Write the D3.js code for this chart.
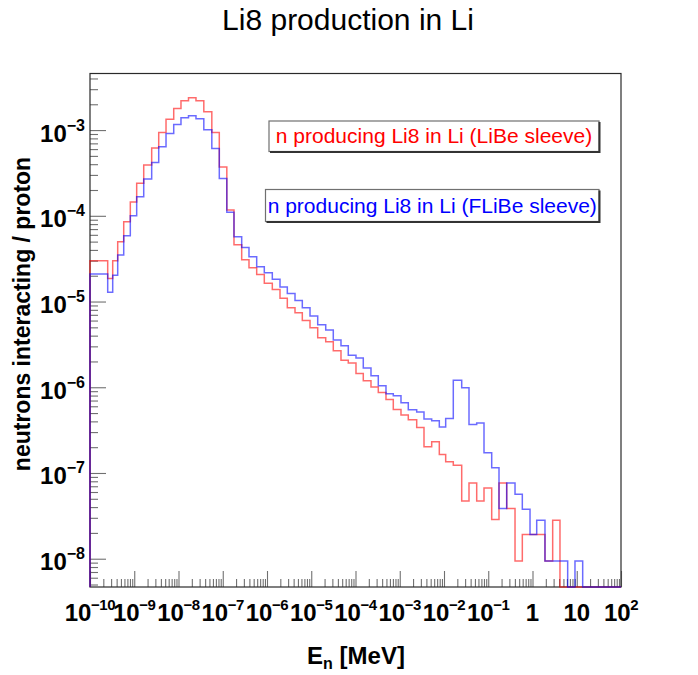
<!DOCTYPE html>
<html>
<head>
<meta charset="utf-8">
<script src="https://cdn.jsdelivr.net/npm/d3@7"></script>
<style>
  body { margin: 0; background: #fff; }
  svg { display: block; }
  text { font-family: "Liberation Sans", Arial, Helvetica, sans-serif; }
</style>
</head>
<body>
<svg width="698" height="675"></svg>
<script>
// границы бинов, log10(E / MeV)
const binEdgesLog = [
    -10, -9.600, -9.487,
    -9.374, -9.238, -9.089, -8.945, -8.786, -8.606, -8.447, -8.282, -8.108, -7.944,
    -7.774, -7.605, -7.428, -7.247, -7.078, -6.908, -6.746, -6.572, -6.407, -6.233,
    -6.061, -5.880, -5.706, -5.541, -5.367, -5.202, -5.028, -4.854, -4.673, -4.502,
    -4.328, -4.163, -3.989, -3.824, -3.650, -3.485, -3.311, -3.146, -2.972, -2.807,
    -2.617, -2.452, -2.278, -2.106, -1.962, -1.790, -1.600, -1.435, -1.261, -1.096,
    -0.922, -0.757, -0.583, -0.395, -0.230, -0.056, 0.095, 0.282, 0.456, 0.621,
    0.795, 0.960, 1.134,
    1.30, 1.47, 1.64, 1.81, 2.0
];

// нейтроны, рождающие Li8 в Li, на протон (LiBe sleeve)
const liBeSleeve = [
    2.99e-5, 1.86e-5, 2.99e-5,
    4.97e-5, 8.51e-5, 1.45e-4, 2.39e-4, 3.91e-4, 6.17e-4, 9.40e-4, 1.34e-3, 1.79e-3, 2.20e-3,
    2.38e-3, 2.20e-3, 1.64e-3, 9.35e-4, 3.70e-4, 1.17e-4, 4.61e-5, 3.08e-5, 2.47e-5, 2.07e-5,
    1.63e-5, 1.38e-5, 1.09e-5, 8.49e-6, 7.42e-6, 6.02e-6, 4.96e-6, 3.77e-6, 3.39e-6, 2.66e-6,
    2.07e-6, 1.92e-6, 1.45e-6, 1.19e-6, 1.01e-6, 8.71e-7, 7.21e-7, 5.51e-7, 4.76e-7, 4.17e-7,
    3.40e-7, 2.02e-7, 2.31e-7, 1.64e-7, 1.35e-7, 1.23e-7, 4.72e-8, 7.66e-8, 4.72e-8, 6.70e-8,
    2.86e-8, 7.66e-8, 3.85e-8, 9.42e-9, 1.91e-8, 1.91e-8, 1.91e-8, 9.42e-9, 2.81e-8, 0,
    0, 0,
    0, 0, 0, 0, 0
];

// то же для FLiBe sleeve
const fLiBeSleeve = [
    2.09e-5, 1.28e-5, 2.03e-5,
    3.48e-5, 5.85e-5, 1.00e-4, 1.67e-4, 2.68e-4, 4.20e-4, 6.38e-4, 9.15e-4, 1.16e-3, 1.39e-3,
    1.47e-3, 1.36e-3, 1.01e-3, 6.11e-4, 2.73e-4, 1.10e-4, 5.69e-5, 4.28e-5, 3.32e-5, 2.54e-5,
    2.16e-5, 1.82e-5, 1.48e-5, 1.24e-5, 1.03e-5, 8.45e-6, 6.79e-6, 5.35e-6, 4.64e-6, 3.55e-6,
    3.04e-6, 2.37e-6, 2.19e-6, 1.68e-6, 1.36e-6, 1.04e-6, 8.41e-7, 7.94e-7, 6.58e-7, 5.48e-7,
    5.16e-7, 4.25e-7, 4.06e-7, 3.45e-7, 4.33e-7, 1.21e-6, 9.84e-7, 3.68e-7, 3.84e-7, 1.72e-7,
    1.15e-7, 3.85e-8, 7.66e-8, 5.66e-8, 3.78e-8, 1.91e-8, 2.81e-8, 9.42e-9, 9.42e-9, 9.42e-9,
    0, 9.42e-9,
    0, 0, 0, 0, 0
];

const seriesNames = ["n producing Li8 in Li (LiBe sleeve)", "n producing Li8 in Li (FLiBe sleeve)"];
const xDecades = [-10, -9, -8, -7, -6, -5, -4, -3, -2, -1, 0, 1, 2];
const yDecades = [-8, -7, -6, -5, -4, -3];

const svg = d3.select("svg");
const plotLeft = 90, plotRight = 621, plotTop = 73.5, plotBottom = 587;

const x = d3.scaleLog().domain([1e-10, 1e2]).range([plotLeft, plotRight]);
const y = d3.scaleLog().domain([Math.pow(10, -8.33), Math.pow(10, -2.34)]).range([plotBottom, plotTop]);

// мелкие деления 2..9 в каждой декаде
let xMinor = [];
for (let k = -10; k < 2; k++) {
    for (let m = 2; m <= 9; m++) xMinor.push(m * Math.pow(10, k));
}
let yMinor = [];
for (let k = -9; k <= -3; k++) {
    for (let m = 2; m <= 9; m++) {
        const v = m * Math.pow(10, k);
        if (v > y.domain()[0] && v < y.domain()[1]) yMinor.push(v);
    }
}

function styleTicks(g) {
    g.select(".domain").remove();
    g.selectAll(".tick line").attr("stroke", "#707070").attr("stroke-width", 1.1);
}

svg.append("g").attr("transform", `translate(0,${plotBottom})`)
    .call(d3.axisBottom(x).tickValues(xDecades.map(k => Math.pow(10, k))).tickSize(-16).tickFormat(""))
    .call(styleTicks);
svg.append("g").attr("transform", `translate(0,${plotBottom})`)
    .call(d3.axisBottom(x).tickValues(xMinor).tickSize(-8).tickFormat(""))
    .call(styleTicks);
svg.append("g").attr("transform", `translate(${plotLeft},0)`)
    .call(d3.axisLeft(y).tickValues(yDecades.map(k => Math.pow(10, k))).tickSize(-16).tickFormat(""))
    .call(styleTicks);
svg.append("g").attr("transform", `translate(${plotLeft},0)`)
    .call(d3.axisLeft(y).tickValues(yMinor).tickSize(-8).tickFormat(""))
    .call(styleTicks);

// рамка
svg.append("rect")
    .attr("x", plotLeft).attr("y", plotTop)
    .attr("width", plotRight - plotLeft).attr("height", plotBottom - plotTop)
    .attr("fill", "none").attr("stroke", "#2a2a2a").attr("stroke-width", 1.2);

// подписи делений
const supText = k => (k < 0 ? "\u2212" + (-k) : String(k));

xDecades.forEach(k => {
    const t = svg.append("text")
        .attr("x", x(Math.pow(10, k))).attr("y", 621)
        .attr("text-anchor", "middle")
        .style("font-weight", "bold").style("font-size", "24px");
    if (k === 0) t.text("1");
    else if (k === 1) t.text("10");
    else {
        t.append("tspan").text("10");
        t.append("tspan").attr("dy", -11).attr("dx", -0.5)
            .style("font-size", "15px").style("letter-spacing", "-0.4px")
            .text(supText(k));
    }
});

yDecades.forEach(k => {
    const t = svg.append("text")
        .attr("x", 85).attr("y", y(Math.pow(10, k)) + 11.5)
        .attr("text-anchor", "end")
        .style("font-weight", "bold").style("font-size", "24px");
    t.append("tspan").text("10");
    t.append("tspan").attr("dy", -11).style("font-size", "16px").text(supText(k));
});

// гистограммы ступеньками
function histPoints(values) {
    const pts = [{e: binEdgesLog[0], v: 0}];
    values.forEach((v, i) => {
        pts.push({e: binEdgesLog[i], v: v});
        pts.push({e: binEdgesLog[i + 1], v: v});
    });
    return pts;
}

const line = d3.line()
    .x(d => x(Math.pow(10, d.e)))
    .y(d => d.v > 0 ? y(d.v) : plotBottom);

svg.append("path")
    .attr("d", line(histPoints(liBeSleeve)))
    .attr("fill", "none").attr("stroke", "#ff0000")
    .attr("stroke-opacity", 0.58).attr("stroke-width", 1.5);
svg.append("path")
    .attr("d", line(histPoints(fLiBeSleeve)))
    .attr("fill", "none").attr("stroke", "#0000ff")
    .attr("stroke-opacity", 0.58).attr("stroke-width", 1.5);

// названия осей и заголовок
svg.append("text")
    .attr("x", 348).attr("y", 30)
    .attr("text-anchor", "middle")
    .style("font-size", "30px")
    .text("Li8 production in Li");

const xt = svg.append("text")
    .attr("x", 356).attr("y", 664)
    .attr("text-anchor", "middle")
    .style("font-weight", "bold").style("font-size", "24px");
xt.append("tspan").text("E");
xt.append("tspan").attr("dy", 5).style("font-size", "16px").text("n");
xt.append("tspan").attr("dy", -5).text("\u00a0[MeV]");

svg.append("text")
    .attr("transform", "translate(30,314) rotate(-90)")
    .attr("text-anchor", "middle")
    .style("font-weight", "bold").style("font-size", "23px")
    .text("neutrons interacting / proton");

// легенда: две рамки с тенью
function legendBox(x0, y0, x1, y1, label, color) {
    svg.append("rect")
        .attr("x", x0).attr("y", y0)
        .attr("width", x1 - x0).attr("height", y1 - y0)
        .attr("fill", "#fff").attr("stroke", "#707070").attr("stroke-width", 1.2);
    svg.append("path")
        .attr("d", `M${x0 + 1},${y1 + 0.5} H${x1 + 0.5} V${y0 + 1}`)
        .attr("fill", "none").attr("stroke", "#333").attr("stroke-width", 2);
    svg.append("text")
        .attr("x", (x0 + x1) / 2).attr("y", (y0 + y1) / 2 + 7)
        .attr("text-anchor", "middle")
        .style("font-size", "21px").attr("fill", color)
        .text(label);
}

legendBox(269, 121, 599, 151.5, seriesNames[0], "#ff0000");
legendBox(265.5, 189.5, 599, 221.5, seriesNames[1], "#0000ff");
</script>
</body>
</html>
